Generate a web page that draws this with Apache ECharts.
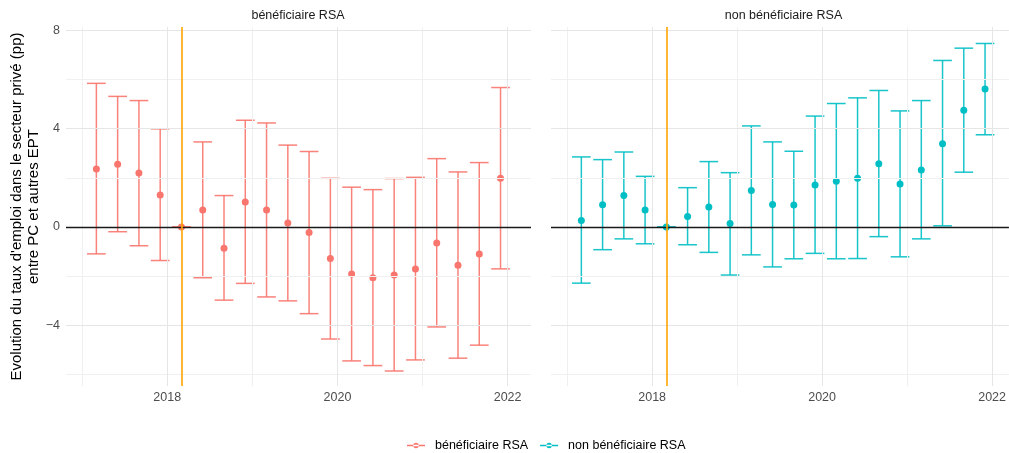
<!DOCTYPE html>
<html lang="fr">
<head>
<meta charset="utf-8">
<title>Evolution du taux d'emploi dans le secteur privé</title>
<script src="https://cdn.jsdelivr.net/npm/echarts@6/dist/echarts.min.js"></script>
<style>
  html, body { margin: 0; padding: 0; background: #ffffff; }
  #chart { width: 1009px; height: 453px; }
</style>
</head>
<body>
<div id="chart"></div>
<script>
// Quarterly periods (decimal years)
const periods = [2017.167, 2017.417, 2017.667, 2017.917, 2018.167, 2018.417, 2018.667, 2018.917,
                 2019.167, 2019.417, 2019.667, 2019.917, 2020.167, 2020.417, 2020.667, 2020.917,
                 2021.167, 2021.417, 2021.667, 2021.917];

// Bénéficiaires RSA: estimate and confidence interval (pp)
const rsaEst  = [2.36, 2.55, 2.20, 1.30, 0, 0.69, -0.86, 1.02, 0.69, 0.16,
                 -0.22, -1.28, -1.91, -2.06, -1.95, -1.70, -0.65, -1.55, -1.10, 1.98];
const rsaLow  = [-1.09, -0.19, -0.76, -1.36, 0, -2.06, -2.97, -2.29, -2.84, -3.00,
                 -3.52, -4.55, -5.44, -5.63, -5.85, -5.40, -4.06, -5.33, -4.80, -1.70];
const rsaHigh = [5.84, 5.31, 5.14, 3.99, 0, 3.46, 1.28, 4.34, 4.23, 3.33,
                 3.07, 1.98, 1.62, 1.52, 1.97, 2.02, 2.78, 2.24, 2.62, 5.67];

// Non bénéficiaires RSA: estimate and confidence interval (pp)
const nonEst  = [0.27, 0.91, 1.28, 0.69, 0, 0.43, 0.81, 0.14, 1.49, 0.92,
                 0.90, 1.71, 1.86, 1.98, 2.57, 1.75, 2.32, 3.39, 4.75, 5.61];
const nonLow  = [-2.28, -0.92, -0.48, -0.68, 0, -0.72, -1.03, -1.95, -1.13, -1.62,
                 -1.29, -1.07, -1.29, -1.28, -0.39, -1.21, -0.48, 0.05, 2.23, 3.75];
const nonHigh = [2.85, 2.74, 3.05, 2.06, 0, 1.60, 2.66, 2.21, 4.11, 3.46,
                 3.08, 4.51, 5.02, 5.25, 5.55, 4.72, 5.14, 6.77, 7.27, 7.46];

const groups = ['bénéficiaire RSA', 'non bénéficiaire RSA'];
const colors = ['#F8766D', '#00BFC4'];

// Axis breaks
const xMajor = [2018, 2020, 2022];
const xMinor = [2017, 2019, 2021];
const yMajor = [-4, 0, 4, 8];
const yMinor = [-6, -2, 2, 6];
const reformDate = 2018.167;

const capWidth = 0.22;   // error bar cap width, in years
const font = '"Liberation Sans", Arial, Helvetica, sans-serif';

const chart = echarts.init(document.getElementById('chart'), null, { renderer: 'canvas' });

// The right panel runs off the page edge, so its axis stops a little earlier
// while keeping the same scale as the left panel.
const grids = [
  { left: 66, width: 465, top: 27, bottom: 67 },
  { left: 551, right: 0, top: 27, bottom: 67 }
];
const xMaxes = [2022.275, 2022.198];

function xAxisFor(i) {
  return {
    type: 'value', gridIndex: i, min: 2016.81, max: xMaxes[i],
    axisLine: { show: false }, axisTick: { show: false }, splitLine: { show: false },
    axisLabel: {
      customValues: xMajor, color: '#4d4d4d', fontSize: 12.5, fontFamily: font, margin: 5,
      formatter: v => String(Math.round(v))
    }
  };
}
function yAxisFor(i) {
  const ax = {
    type: 'value', gridIndex: i, min: -6.46, max: 8.13,
    axisLine: { show: false }, axisTick: { show: false }, splitLine: { show: false },
    axisLabel: {
      show: i === 0, customValues: yMajor, color: '#4d4d4d', fontSize: 12.5, fontFamily: font, margin: 6,
      formatter: v => (v < 0 ? '\u2212' + Math.abs(v) : String(v))
    }
  };
  if (i === 0) {
    ax.name = "Evolution du taux d'emploi dans le secteur privé (pp)\nentre PC et autres EPT";
    ax.nameLocation = 'middle';
    ax.nameRotate = 90;
    ax.nameGap = 22;
    ax.nameTextStyle = { color: '#000000', fontSize: 15, fontFamily: font, lineHeight: 16.5 };
  }
  return ax;
}

function gridLines(i) {
  const major = { color: '#e6e6e6', width: 1, type: 'solid' };
  const minor = { color: '#f0f0f0', width: 1, type: 'solid' };
  const data = [];
  xMinor.forEach(v => data.push({ xAxis: v, lineStyle: minor }));
  yMinor.forEach(v => data.push({ yAxis: v, lineStyle: minor }));
  xMajor.forEach(v => data.push({ xAxis: v, lineStyle: major }));
  yMajor.forEach(v => data.push({ yAxis: v, lineStyle: major }));
  return {
    type: 'line', xAxisIndex: i, yAxisIndex: i, data: [], silent: true, z: 0,
    markLine: { silent: true, symbol: 'none', label: { show: false }, animation: false, data: data }
  };
}

function refLines(i) {
  return {
    type: 'line', xAxisIndex: i, yAxisIndex: i, data: [], silent: true, z: 5,
    markLine: {
      silent: true, symbol: 'none', label: { show: false }, animation: false,
      data: [
        { yAxis: 0, lineStyle: { color: '#1a1a1a', width: 1.4, type: 'solid', opacity: 1 } },
        { xAxis: reformDate, lineStyle: { color: '#FFA500', width: 1.6, type: 'solid', opacity: 1 } }
      ]
    }
  };
}

function errorBars(i, low, high) {
  const color = colors[i];
  return {
    type: 'custom', xAxisIndex: i, yAxisIndex: i, silent: true, z: 3,
    data: periods.map((p, k) => [p, low[k], high[k]]),
    encode: { x: 0, y: [1, 2] },
    renderItem: function (params, api) {
      const x = api.value(0);
      const pLo = api.coord([x, api.value(1)]);
      const pHi = api.coord([x, api.value(2)]);
      const hw = api.size([capWidth, 0])[0] / 2;
      const style = { stroke: color, lineWidth: 1.5, opacity: 0.9 };
      return {
        type: 'group',
        children: [
          { type: 'line', shape: { x1: pLo[0], y1: pLo[1], x2: pHi[0], y2: pHi[1] }, style: style },
          { type: 'line', shape: { x1: pHi[0] - hw, y1: pHi[1], x2: pHi[0] + hw, y2: pHi[1] }, style: style },
          { type: 'line', shape: { x1: pLo[0] - hw, y1: pLo[1], x2: pLo[0] + hw, y2: pLo[1] }, style: style }
        ]
      };
    }
  };
}

function points(i, est) {
  return {
    name: groups[i], type: 'scatter', xAxisIndex: i, yAxisIndex: i, z: 4,
    symbol: 'circle', symbolSize: 7,
    itemStyle: { color: colors[i], opacity: 1 },
    data: periods.map((p, k) => [p, est[k]])
  };
}

// Legend key: short line with a dot in the middle
const legendIcon = 'path://M0,2 L18,2 L18,3.5 L0,3.5 Z M6.25,2.75 A2.75,2.75 0 1,0 11.75,2.75 A2.75,2.75 0 1,0 6.25,2.75 Z';

chart.setOption({
  animation: false,
  backgroundColor: '#ffffff',
  textStyle: { fontFamily: font },
  grid: grids,
  xAxis: [xAxisFor(0), xAxisFor(1)],
  yAxis: [yAxisFor(0), yAxisFor(1)],
  legend: {
    left: 402, top: 434,
    itemWidth: 18, itemHeight: 5.5, itemGap: 12,
    icon: legendIcon,
    textStyle: { color: '#000000', fontSize: 12.5, fontFamily: font, padding: [0, 0, 0, 5] },
    data: groups
  },
  graphic: [
    { type: 'text', x: 298, y: 16, style: { text: groups[0], fill: '#1a1a1a', font: '12.5px ' + font, textAlign: 'center', textVerticalAlign: 'middle' } },
    { type: 'text', x: 783.5, y: 16, style: { text: groups[1], fill: '#1a1a1a', font: '12.5px ' + font, textAlign: 'center', textVerticalAlign: 'middle' } }
  ],
  series: [
    gridLines(0), gridLines(1),
    errorBars(0, rsaLow, rsaHigh), errorBars(1, nonLow, nonHigh),
    refLines(0), refLines(1),
    points(0, rsaEst), points(1, nonEst)
  ]
});
</script>
</body>
</html>
